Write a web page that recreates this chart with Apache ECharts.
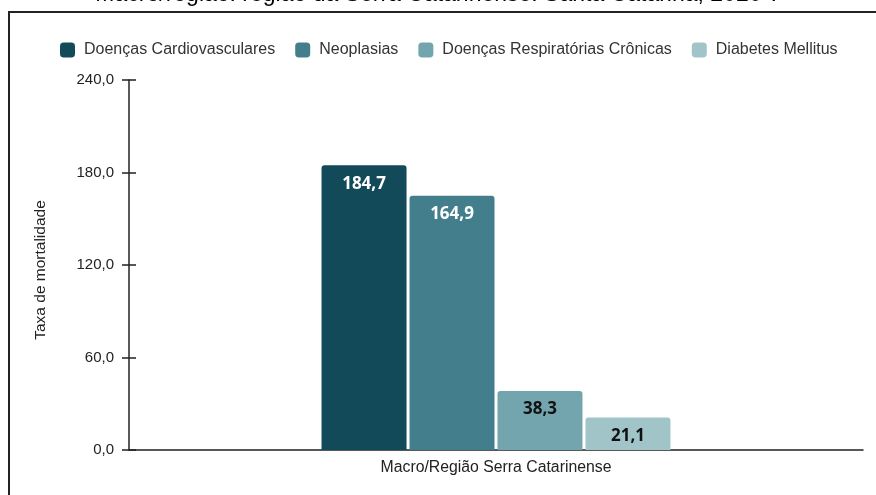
<!DOCTYPE html>
<html>
<head>
<meta charset="utf-8">
<script src="https://cdn.jsdelivr.net/npm/echarts@6/dist/echarts.min.js"></script>
<style>html,body{margin:0;padding:0;background:#fff;}#c{width:876px;height:495px;}</style>
</head>
<body>
<div id="c"></div>
<script>
var categories = ['Macro/Região Serra Catarinense'];
var seriesNames = ['Doenças Cardiovasculares', 'Neoplasias', 'Doenças Respiratórias Crônicas', 'Diabetes Mellitus'];
var cardio = [184.7];
var neo = [164.9];
var resp = [38.3];
var diab = [21.1];
var titleText = 'Macro/região: região da Serra Catarinense. Santa Catarina, 2020 ?';
var yAxisName = 'Taxa de mortalidade';

var colors = ['#124a5a', '#437e8c', '#72a5ae', '#a1c4c9'];
var labelColors = ['#ffffff', '#ffffff', '#111111', '#111111'];
var values = [cardio, neo, resp, diab];
function fmt(v){ return Number(v).toFixed(1).replace('.', ','); }

var chart = echarts.init(document.getElementById('c'));
chart.setOption({
  animation: false,
  color: colors,
  graphic: [
    { type: 'text', left: 'center', top: -17, style: { text: titleText, font: '23px "Liberation Sans", Arial, sans-serif', fill: '#000' } },
    { type: 'rect', shape: { x: 9, y: 12, width: 900, height: 600 }, style: { fill: 'none', stroke: '#222', lineWidth: 2 } }
  ],
  legend: {
    top: 37, left: 55,
    itemWidth: 15, itemHeight: 15, itemGap: 20,
    icon: 'roundRect',
    textStyle: { fontFamily: '"Liberation Sans", Arial, sans-serif', fontSize: 16, color: '#333', padding: [0, 0, 0, 4] },
    data: seriesNames
  },
  grid: { left: 129, right: 13, top: 80, bottom: 45, containLabel: false },
  xAxis: {
    type: 'category', data: categories,
    axisLine: { lineStyle: { color: '#222', width: 1.5 } },
    axisTick: { show: false },
    axisLabel: { fontFamily: '"Liberation Sans", Arial, sans-serif', fontSize: 15.8, color: '#222', margin: 10 }
  },
  yAxis: [{
    type: 'value', min: 0, max: 240, interval: 60,
    name: yAxisName, nameLocation: 'middle', nameGap: 80,
    nameTextStyle: { fontFamily: '"Liberation Sans", Arial, sans-serif', fontSize: 15.5, color: '#222', padding: [0, 10, 0, 0] },
    axisLine: { show: true, lineStyle: { color: '#222', width: 1.5 } },
    axisTick: { show: true, length: 7, lineStyle: { color: '#222', width: 1.5 } },
    splitLine: { show: false },
    axisLabel: { formatter: fmt, fontFamily: '"Liberation Sans", Arial, sans-serif', fontSize: 15, color: '#222', margin: 15 }
  }, {
    type: 'value', min: 0, max: 240, interval: 60, position: 'left',
    axisLine: { show: false },
    axisTick: { show: true, inside: true, length: 7, lineStyle: { color: '#222', width: 1.5 } },
    splitLine: { show: false },
    axisLabel: { show: false }
  }],
  series: seriesNames.map(function(n, i){
    return {
      name: n, type: 'bar', data: values[i],
      barWidth: 85, barGap: '3.5%',
      itemStyle: { color: colors[i], borderRadius: [3,3,0,0] },
      label: { show: true, position: 'insideTop', distance: 10, formatter: function(p){ return fmt(p.value); },
        fontFamily: '"Open Sans", Roboto, sans-serif', fontWeight: 'bold', fontSize: 17, color: labelColors[i] }
    };
  })
});
</script>
</body>
</html>
